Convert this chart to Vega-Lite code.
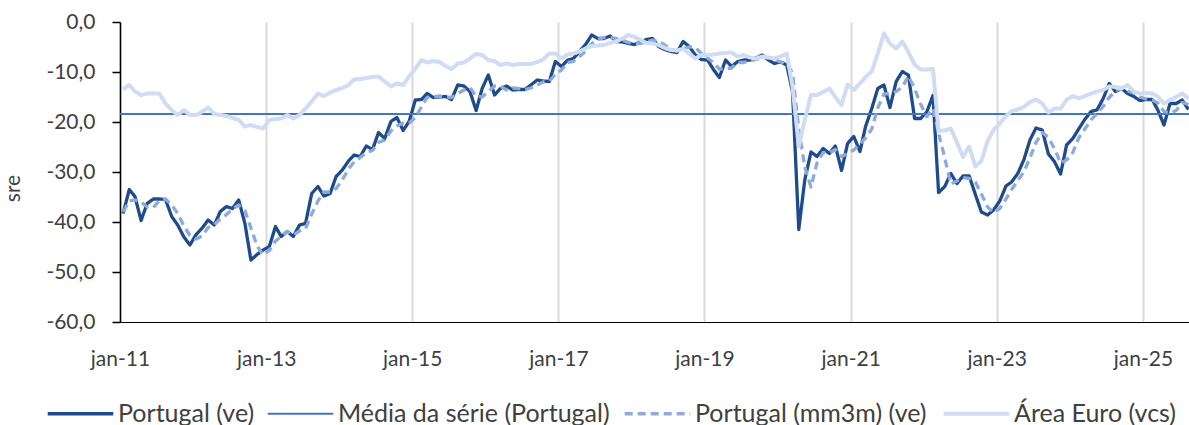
{
  "$schema": "https://vega.github.io/schema/vega-lite/v6.json",
  "width": 1069,
  "height": 300,
  "autosize": {"type": "none"},
  "padding": {"left": 120, "top": 22, "right": 0, "bottom": 103},
  "config": {
    "view": {"stroke": null},
    "font": "Lato",
    "locale": {"number": {"decimal": ",", "thousands": ".", "grouping": [3], "currency": ["", " €"], "minus": "-"}},
    "axis": {"labelFont": "Lato", "labelFontSize": 21, "labelColor": "#404040", "titleFont": "Lato", "titleFontSize": 21, "titleFontWeight": "normal", "titleColor": "#404040"},
    "legend": {"labelFont": "Lato", "labelFontSize": 25, "labelColor": "#404040", "labelLimit": 500}
  },
  "datasets": {
    "d": [
      {"m": "2011-01", "Portugal (ve)": -38.3, "Portugal (mm3m) (ve)": -38.0, "Área Euro (vcs)": -13.5},
      {"m": "2011-02", "Portugal (ve)": -33.5, "Portugal (mm3m) (ve)": -35.8, "Área Euro (vcs)": -12.6},
      {"m": "2011-03", "Portugal (ve)": -34.9, "Portugal (mm3m) (ve)": -35.6, "Área Euro (vcs)": -13.9},
      {"m": "2011-04", "Portugal (ve)": -39.7, "Portugal (mm3m) (ve)": -36.0, "Área Euro (vcs)": -14.6},
      {"m": "2011-05", "Portugal (ve)": -36.3, "Portugal (mm3m) (ve)": -37.0, "Área Euro (vcs)": -14.3},
      {"m": "2011-06", "Portugal (ve)": -35.4, "Portugal (mm3m) (ve)": -37.1, "Área Euro (vcs)": -14.3},
      {"m": "2011-07", "Portugal (ve)": -35.4, "Portugal (mm3m) (ve)": -35.7, "Área Euro (vcs)": -14.3},
      {"m": "2011-08", "Portugal (ve)": -35.5, "Portugal (mm3m) (ve)": -35.4, "Área Euro (vcs)": -16.3},
      {"m": "2011-09", "Portugal (ve)": -38.9, "Portugal (mm3m) (ve)": -36.6, "Área Euro (vcs)": -17.6},
      {"m": "2011-10", "Portugal (ve)": -40.6, "Portugal (mm3m) (ve)": -38.3, "Área Euro (vcs)": -18.6},
      {"m": "2011-11", "Portugal (ve)": -43.0, "Portugal (mm3m) (ve)": -40.8, "Área Euro (vcs)": -17.6},
      {"m": "2011-12", "Portugal (ve)": -44.6, "Portugal (mm3m) (ve)": -42.7, "Área Euro (vcs)": -18.6},
      {"m": "2012-01", "Portugal (ve)": -42.5, "Portugal (mm3m) (ve)": -43.4, "Área Euro (vcs)": -18.6},
      {"m": "2012-02", "Portugal (ve)": -41.2, "Portugal (mm3m) (ve)": -42.8, "Área Euro (vcs)": -17.9},
      {"m": "2012-03", "Portugal (ve)": -39.6, "Portugal (mm3m) (ve)": -41.1, "Área Euro (vcs)": -17.1},
      {"m": "2012-04", "Portugal (ve)": -40.6, "Portugal (mm3m) (ve)": -40.5, "Área Euro (vcs)": -18.4},
      {"m": "2012-05", "Portugal (ve)": -37.9, "Portugal (mm3m) (ve)": -39.4, "Área Euro (vcs)": -18.6},
      {"m": "2012-06", "Portugal (ve)": -36.9, "Portugal (mm3m) (ve)": -38.5, "Área Euro (vcs)": -18.8},
      {"m": "2012-07", "Portugal (ve)": -37.3, "Portugal (mm3m) (ve)": -37.4, "Área Euro (vcs)": -19.2},
      {"m": "2012-08", "Portugal (ve)": -35.6, "Portugal (mm3m) (ve)": -36.6, "Área Euro (vcs)": -19.6},
      {"m": "2012-09", "Portugal (ve)": -40.3, "Portugal (mm3m) (ve)": -37.7, "Área Euro (vcs)": -20.9},
      {"m": "2012-10", "Portugal (ve)": -47.6, "Portugal (mm3m) (ve)": -41.2, "Área Euro (vcs)": -20.6},
      {"m": "2012-11", "Portugal (ve)": -46.5, "Portugal (mm3m) (ve)": -44.8, "Área Euro (vcs)": -21.0},
      {"m": "2012-12", "Portugal (ve)": -45.6, "Portugal (mm3m) (ve)": -46.6, "Área Euro (vcs)": -21.3},
      {"m": "2013-01", "Portugal (ve)": -44.9, "Portugal (mm3m) (ve)": -45.7, "Área Euro (vcs)": -19.6},
      {"m": "2013-02", "Portugal (ve)": -40.9, "Portugal (mm3m) (ve)": -43.8, "Área Euro (vcs)": -19.4},
      {"m": "2013-03", "Portugal (ve)": -42.9, "Portugal (mm3m) (ve)": -42.9, "Área Euro (vcs)": -19.3},
      {"m": "2013-04", "Portugal (ve)": -41.9, "Portugal (mm3m) (ve)": -41.9, "Área Euro (vcs)": -18.6},
      {"m": "2013-05", "Portugal (ve)": -42.9, "Portugal (mm3m) (ve)": -42.6, "Área Euro (vcs)": -19.3},
      {"m": "2013-06", "Portugal (ve)": -40.6, "Portugal (mm3m) (ve)": -41.8, "Área Euro (vcs)": -18.6},
      {"m": "2013-07", "Portugal (ve)": -40.3, "Portugal (mm3m) (ve)": -41.3, "Área Euro (vcs)": -17.3},
      {"m": "2013-08", "Portugal (ve)": -34.3, "Portugal (mm3m) (ve)": -38.4, "Área Euro (vcs)": -15.9},
      {"m": "2013-09", "Portugal (ve)": -32.9, "Portugal (mm3m) (ve)": -35.8, "Área Euro (vcs)": -14.3},
      {"m": "2013-10", "Portugal (ve)": -34.8, "Portugal (mm3m) (ve)": -34.0, "Área Euro (vcs)": -14.8},
      {"m": "2013-11", "Portugal (ve)": -34.3, "Portugal (mm3m) (ve)": -34.0, "Área Euro (vcs)": -14.1},
      {"m": "2013-12", "Portugal (ve)": -30.9, "Portugal (mm3m) (ve)": -33.3, "Área Euro (vcs)": -13.6},
      {"m": "2014-01", "Portugal (ve)": -29.6, "Portugal (mm3m) (ve)": -31.6, "Área Euro (vcs)": -13.2},
      {"m": "2014-02", "Portugal (ve)": -27.8, "Portugal (mm3m) (ve)": -29.4, "Área Euro (vcs)": -12.6},
      {"m": "2014-03", "Portugal (ve)": -26.6, "Portugal (mm3m) (ve)": -28.0, "Área Euro (vcs)": -11.5},
      {"m": "2014-04", "Portugal (ve)": -26.9, "Portugal (mm3m) (ve)": -27.1, "Área Euro (vcs)": -11.4},
      {"m": "2014-05", "Portugal (ve)": -24.8, "Portugal (mm3m) (ve)": -26.1, "Área Euro (vcs)": -11.2},
      {"m": "2014-06", "Portugal (ve)": -25.5, "Portugal (mm3m) (ve)": -25.7, "Área Euro (vcs)": -11.0},
      {"m": "2014-07", "Portugal (ve)": -22.1, "Portugal (mm3m) (ve)": -24.1, "Área Euro (vcs)": -10.9},
      {"m": "2014-08", "Portugal (ve)": -23.3, "Portugal (mm3m) (ve)": -23.6, "Área Euro (vcs)": -11.9},
      {"m": "2014-09", "Portugal (ve)": -19.9, "Portugal (mm3m) (ve)": -21.8, "Área Euro (vcs)": -12.9},
      {"m": "2014-10", "Portugal (ve)": -19.1, "Portugal (mm3m) (ve)": -20.8, "Área Euro (vcs)": -12.3},
      {"m": "2014-11", "Portugal (ve)": -21.7, "Portugal (mm3m) (ve)": -20.2, "Área Euro (vcs)": -12.6},
      {"m": "2014-12", "Portugal (ve)": -19.9, "Portugal (mm3m) (ve)": -20.2, "Área Euro (vcs)": -10.9},
      {"m": "2015-01", "Portugal (ve)": -15.6, "Portugal (mm3m) (ve)": -19.1, "Área Euro (vcs)": -9.3},
      {"m": "2015-02", "Portugal (ve)": -15.5, "Portugal (mm3m) (ve)": -17.0, "Área Euro (vcs)": -7.6},
      {"m": "2015-03", "Portugal (ve)": -14.3, "Portugal (mm3m) (ve)": -15.1, "Área Euro (vcs)": -8.1},
      {"m": "2015-04", "Portugal (ve)": -15.1, "Portugal (mm3m) (ve)": -15.0, "Área Euro (vcs)": -7.8},
      {"m": "2015-05", "Portugal (ve)": -15.0, "Portugal (mm3m) (ve)": -14.8, "Área Euro (vcs)": -8.0},
      {"m": "2015-06", "Portugal (ve)": -14.9, "Portugal (mm3m) (ve)": -15.0, "Área Euro (vcs)": -8.8},
      {"m": "2015-07", "Portugal (ve)": -15.5, "Portugal (mm3m) (ve)": -15.1, "Área Euro (vcs)": -9.4},
      {"m": "2015-08", "Portugal (ve)": -12.6, "Portugal (mm3m) (ve)": -14.3, "Área Euro (vcs)": -8.3},
      {"m": "2015-09", "Portugal (ve)": -12.8, "Portugal (mm3m) (ve)": -13.6, "Área Euro (vcs)": -8.1},
      {"m": "2015-10", "Portugal (ve)": -13.9, "Portugal (mm3m) (ve)": -13.1, "Área Euro (vcs)": -7.3},
      {"m": "2015-11", "Portugal (ve)": -17.7, "Portugal (mm3m) (ve)": -14.8, "Área Euro (vcs)": -6.4},
      {"m": "2015-12", "Portugal (ve)": -13.3, "Portugal (mm3m) (ve)": -15.0, "Área Euro (vcs)": -6.6},
      {"m": "2016-01", "Portugal (ve)": -10.6, "Portugal (mm3m) (ve)": -13.9, "Área Euro (vcs)": -7.6},
      {"m": "2016-02", "Portugal (ve)": -14.6, "Portugal (mm3m) (ve)": -12.8, "Área Euro (vcs)": -7.8},
      {"m": "2016-03", "Portugal (ve)": -13.3, "Portugal (mm3m) (ve)": -12.8, "Área Euro (vcs)": -8.6},
      {"m": "2016-04", "Portugal (ve)": -12.8, "Portugal (mm3m) (ve)": -13.6, "Área Euro (vcs)": -8.3},
      {"m": "2016-05", "Portugal (ve)": -13.6, "Portugal (mm3m) (ve)": -13.2, "Área Euro (vcs)": -8.6},
      {"m": "2016-06", "Portugal (ve)": -13.5, "Portugal (mm3m) (ve)": -13.3, "Área Euro (vcs)": -8.4},
      {"m": "2016-07", "Portugal (ve)": -13.5, "Portugal (mm3m) (ve)": -13.5, "Área Euro (vcs)": -8.4},
      {"m": "2016-08", "Portugal (ve)": -12.6, "Portugal (mm3m) (ve)": -13.2, "Área Euro (vcs)": -8.4},
      {"m": "2016-09", "Portugal (ve)": -11.6, "Portugal (mm3m) (ve)": -12.6, "Área Euro (vcs)": -8.0},
      {"m": "2016-10", "Portugal (ve)": -11.8, "Portugal (mm3m) (ve)": -12.0, "Área Euro (vcs)": -7.5},
      {"m": "2016-11", "Portugal (ve)": -11.9, "Portugal (mm3m) (ve)": -11.8, "Área Euro (vcs)": -6.3},
      {"m": "2016-12", "Portugal (ve)": -7.9, "Portugal (mm3m) (ve)": -10.5, "Área Euro (vcs)": -6.3},
      {"m": "2017-01", "Portugal (ve)": -8.9, "Portugal (mm3m) (ve)": -9.6, "Área Euro (vcs)": -7.3},
      {"m": "2017-02", "Portugal (ve)": -7.6, "Portugal (mm3m) (ve)": -8.1, "Área Euro (vcs)": -6.5},
      {"m": "2017-03", "Portugal (ve)": -7.3, "Portugal (mm3m) (ve)": -7.9, "Área Euro (vcs)": -6.3},
      {"m": "2017-04", "Portugal (ve)": -5.9, "Portugal (mm3m) (ve)": -6.9, "Área Euro (vcs)": -5.9},
      {"m": "2017-05", "Portugal (ve)": -4.5, "Portugal (mm3m) (ve)": -5.9, "Área Euro (vcs)": -5.3},
      {"m": "2017-06", "Portugal (ve)": -2.6, "Portugal (mm3m) (ve)": -4.3, "Área Euro (vcs)": -4.8},
      {"m": "2017-07", "Portugal (ve)": -3.3, "Portugal (mm3m) (ve)": -3.5, "Área Euro (vcs)": -4.7},
      {"m": "2017-08", "Portugal (ve)": -3.3, "Portugal (mm3m) (ve)": -3.1, "Área Euro (vcs)": -4.6},
      {"m": "2017-09", "Portugal (ve)": -2.8, "Portugal (mm3m) (ve)": -3.1, "Área Euro (vcs)": -4.2},
      {"m": "2017-10", "Portugal (ve)": -3.9, "Portugal (mm3m) (ve)": -3.3, "Área Euro (vcs)": -3.9},
      {"m": "2017-11", "Portugal (ve)": -4.0, "Portugal (mm3m) (ve)": -3.6, "Área Euro (vcs)": -3.3},
      {"m": "2017-12", "Portugal (ve)": -4.3, "Portugal (mm3m) (ve)": -4.1, "Área Euro (vcs)": -2.6},
      {"m": "2018-01", "Portugal (ve)": -4.5, "Portugal (mm3m) (ve)": -4.3, "Área Euro (vcs)": -3.0},
      {"m": "2018-02", "Portugal (ve)": -4.0, "Portugal (mm3m) (ve)": -4.3, "Área Euro (vcs)": -3.6},
      {"m": "2018-03", "Portugal (ve)": -3.5, "Portugal (mm3m) (ve)": -4.0, "Área Euro (vcs)": -4.2},
      {"m": "2018-04", "Portugal (ve)": -3.3, "Portugal (mm3m) (ve)": -3.6, "Área Euro (vcs)": -4.3},
      {"m": "2018-05", "Portugal (ve)": -4.9, "Portugal (mm3m) (ve)": -3.9, "Área Euro (vcs)": -4.6},
      {"m": "2018-06", "Portugal (ve)": -5.5, "Portugal (mm3m) (ve)": -4.6, "Área Euro (vcs)": -5.2},
      {"m": "2018-07", "Portugal (ve)": -5.9, "Portugal (mm3m) (ve)": -5.4, "Área Euro (vcs)": -5.6},
      {"m": "2018-08", "Portugal (ve)": -6.1, "Portugal (mm3m) (ve)": -5.8, "Área Euro (vcs)": -5.7},
      {"m": "2018-09", "Portugal (ve)": -3.9, "Portugal (mm3m) (ve)": -5.3, "Área Euro (vcs)": -5.4},
      {"m": "2018-10", "Portugal (ve)": -4.9, "Portugal (mm3m) (ve)": -5.0, "Área Euro (vcs)": -6.3},
      {"m": "2018-11", "Portugal (ve)": -6.6, "Portugal (mm3m) (ve)": -5.1, "Área Euro (vcs)": -7.3},
      {"m": "2018-12", "Portugal (ve)": -7.5, "Portugal (mm3m) (ve)": -6.3, "Área Euro (vcs)": -6.6},
      {"m": "2019-01", "Portugal (ve)": -7.6, "Portugal (mm3m) (ve)": -7.2, "Área Euro (vcs)": -6.6},
      {"m": "2019-02", "Portugal (ve)": -9.6, "Portugal (mm3m) (ve)": -8.2, "Área Euro (vcs)": -6.5},
      {"m": "2019-03", "Portugal (ve)": -11.1, "Portugal (mm3m) (ve)": -9.4, "Área Euro (vcs)": -6.3},
      {"m": "2019-04", "Portugal (ve)": -7.6, "Portugal (mm3m) (ve)": -9.4, "Área Euro (vcs)": -6.2},
      {"m": "2019-05", "Portugal (ve)": -8.9, "Portugal (mm3m) (ve)": -9.2, "Área Euro (vcs)": -6.1},
      {"m": "2019-06", "Portugal (ve)": -7.9, "Portugal (mm3m) (ve)": -8.1, "Área Euro (vcs)": -6.9},
      {"m": "2019-07", "Portugal (ve)": -7.6, "Portugal (mm3m) (ve)": -8.1, "Área Euro (vcs)": -6.6},
      {"m": "2019-08", "Portugal (ve)": -7.6, "Portugal (mm3m) (ve)": -7.7, "Área Euro (vcs)": -7.1},
      {"m": "2019-09", "Portugal (ve)": -7.2, "Portugal (mm3m) (ve)": -7.5, "Área Euro (vcs)": -7.3},
      {"m": "2019-10", "Portugal (ve)": -6.6, "Portugal (mm3m) (ve)": -7.1, "Área Euro (vcs)": -6.9},
      {"m": "2019-11", "Portugal (ve)": -7.6, "Portugal (mm3m) (ve)": -7.1, "Área Euro (vcs)": -7.1},
      {"m": "2019-12", "Portugal (ve)": -8.3, "Portugal (mm3m) (ve)": -7.5, "Área Euro (vcs)": -7.3},
      {"m": "2020-01", "Portugal (ve)": -8.0, "Portugal (mm3m) (ve)": -8.0, "Área Euro (vcs)": -6.9},
      {"m": "2020-02", "Portugal (ve)": -8.6, "Portugal (mm3m) (ve)": -8.3, "Área Euro (vcs)": -6.3},
      {"m": "2020-03", "Portugal (ve)": -14.0, "Portugal (mm3m) (ve)": -10.2, "Área Euro (vcs)": -13.0},
      {"m": "2020-04", "Portugal (ve)": -41.5, "Portugal (mm3m) (ve)": -21.4, "Área Euro (vcs)": -24.9},
      {"m": "2020-05", "Portugal (ve)": -31.6, "Portugal (mm3m) (ve)": -29.0, "Área Euro (vcs)": -19.6},
      {"m": "2020-06", "Portugal (ve)": -26.0, "Portugal (mm3m) (ve)": -33.0, "Área Euro (vcs)": -14.6},
      {"m": "2020-07", "Portugal (ve)": -26.9, "Portugal (mm3m) (ve)": -28.2, "Área Euro (vcs)": -14.6},
      {"m": "2020-08", "Portugal (ve)": -25.3, "Portugal (mm3m) (ve)": -26.1, "Área Euro (vcs)": -14.0},
      {"m": "2020-09", "Portugal (ve)": -26.3, "Portugal (mm3m) (ve)": -26.2, "Área Euro (vcs)": -13.3},
      {"m": "2020-10", "Portugal (ve)": -24.8, "Portugal (mm3m) (ve)": -25.5, "Área Euro (vcs)": -15.0},
      {"m": "2020-11", "Portugal (ve)": -29.7, "Portugal (mm3m) (ve)": -26.9, "Área Euro (vcs)": -16.6},
      {"m": "2020-12", "Portugal (ve)": -24.3, "Portugal (mm3m) (ve)": -26.3, "Área Euro (vcs)": -12.5},
      {"m": "2021-01", "Portugal (ve)": -22.9, "Portugal (mm3m) (ve)": -25.6, "Área Euro (vcs)": -13.6},
      {"m": "2021-02", "Portugal (ve)": -25.9, "Portugal (mm3m) (ve)": -24.4, "Área Euro (vcs)": -12.3},
      {"m": "2021-03", "Portugal (ve)": -20.9, "Portugal (mm3m) (ve)": -23.2, "Área Euro (vcs)": -11.0},
      {"m": "2021-04", "Portugal (ve)": -17.3, "Portugal (mm3m) (ve)": -21.4, "Área Euro (vcs)": -9.9},
      {"m": "2021-05", "Portugal (ve)": -13.3, "Portugal (mm3m) (ve)": -17.2, "Área Euro (vcs)": -6.3},
      {"m": "2021-06", "Portugal (ve)": -12.6, "Portugal (mm3m) (ve)": -14.4, "Área Euro (vcs)": -2.3},
      {"m": "2021-07", "Portugal (ve)": -17.1, "Portugal (mm3m) (ve)": -14.3, "Área Euro (vcs)": -4.3},
      {"m": "2021-08", "Portugal (ve)": -11.9, "Portugal (mm3m) (ve)": -13.9, "Área Euro (vcs)": -5.3},
      {"m": "2021-09", "Portugal (ve)": -9.9, "Portugal (mm3m) (ve)": -13.0, "Área Euro (vcs)": -3.9},
      {"m": "2021-10", "Portugal (ve)": -10.6, "Portugal (mm3m) (ve)": -10.8, "Área Euro (vcs)": -6.0},
      {"m": "2021-11", "Portugal (ve)": -19.3, "Portugal (mm3m) (ve)": -13.3, "Área Euro (vcs)": -8.5},
      {"m": "2021-12", "Portugal (ve)": -19.3, "Portugal (mm3m) (ve)": -16.4, "Área Euro (vcs)": -9.5},
      {"m": "2022-01", "Portugal (ve)": -18.0, "Portugal (mm3m) (ve)": -18.9, "Área Euro (vcs)": -9.5},
      {"m": "2022-02", "Portugal (ve)": -14.7, "Portugal (mm3m) (ve)": -17.3, "Área Euro (vcs)": -9.4},
      {"m": "2022-03", "Portugal (ve)": -34.1, "Portugal (mm3m) (ve)": -22.3, "Área Euro (vcs)": -21.8},
      {"m": "2022-04", "Portugal (ve)": -32.9, "Portugal (mm3m) (ve)": -27.2, "Área Euro (vcs)": -21.7},
      {"m": "2022-05", "Portugal (ve)": -30.3, "Portugal (mm3m) (ve)": -32.4, "Área Euro (vcs)": -21.3},
      {"m": "2022-06", "Portugal (ve)": -32.3, "Portugal (mm3m) (ve)": -31.8, "Área Euro (vcs)": -24.1},
      {"m": "2022-07", "Portugal (ve)": -30.8, "Portugal (mm3m) (ve)": -31.1, "Área Euro (vcs)": -27.0},
      {"m": "2022-08", "Portugal (ve)": -30.8, "Portugal (mm3m) (ve)": -31.3, "Área Euro (vcs)": -24.9},
      {"m": "2022-09", "Portugal (ve)": -34.5, "Portugal (mm3m) (ve)": -32.0, "Área Euro (vcs)": -28.9},
      {"m": "2022-10", "Portugal (ve)": -38.0, "Portugal (mm3m) (ve)": -34.4, "Área Euro (vcs)": -27.8},
      {"m": "2022-11", "Portugal (ve)": -38.6, "Portugal (mm3m) (ve)": -37.0, "Área Euro (vcs)": -23.8},
      {"m": "2022-12", "Portugal (ve)": -37.6, "Portugal (mm3m) (ve)": -38.1, "Área Euro (vcs)": -21.6},
      {"m": "2023-01", "Portugal (ve)": -35.8, "Portugal (mm3m) (ve)": -37.3, "Área Euro (vcs)": -20.3},
      {"m": "2023-02", "Portugal (ve)": -32.8, "Portugal (mm3m) (ve)": -35.4, "Área Euro (vcs)": -18.8},
      {"m": "2023-03", "Portugal (ve)": -32.0, "Portugal (mm3m) (ve)": -33.5, "Área Euro (vcs)": -17.8},
      {"m": "2023-04", "Portugal (ve)": -30.3, "Portugal (mm3m) (ve)": -31.7, "Área Euro (vcs)": -17.5},
      {"m": "2023-05", "Portugal (ve)": -27.6, "Portugal (mm3m) (ve)": -30.0, "Área Euro (vcs)": -17.0},
      {"m": "2023-06", "Portugal (ve)": -23.6, "Portugal (mm3m) (ve)": -27.2, "Área Euro (vcs)": -16.0},
      {"m": "2023-07", "Portugal (ve)": -21.2, "Portugal (mm3m) (ve)": -24.1, "Área Euro (vcs)": -15.5},
      {"m": "2023-08", "Portugal (ve)": -21.6, "Portugal (mm3m) (ve)": -22.1, "Área Euro (vcs)": -16.3},
      {"m": "2023-09", "Portugal (ve)": -26.4, "Portugal (mm3m) (ve)": -23.1, "Área Euro (vcs)": -18.1},
      {"m": "2023-10", "Portugal (ve)": -27.9, "Portugal (mm3m) (ve)": -25.3, "Área Euro (vcs)": -17.3},
      {"m": "2023-11", "Portugal (ve)": -30.4, "Portugal (mm3m) (ve)": -28.2, "Área Euro (vcs)": -17.3},
      {"m": "2023-12", "Portugal (ve)": -24.6, "Portugal (mm3m) (ve)": -27.6, "Área Euro (vcs)": -15.6},
      {"m": "2024-01", "Portugal (ve)": -23.3, "Portugal (mm3m) (ve)": -26.1, "Área Euro (vcs)": -14.8},
      {"m": "2024-02", "Portugal (ve)": -21.3, "Portugal (mm3m) (ve)": -23.1, "Área Euro (vcs)": -15.3},
      {"m": "2024-03", "Portugal (ve)": -19.5, "Portugal (mm3m) (ve)": -21.4, "Área Euro (vcs)": -14.8},
      {"m": "2024-04", "Portugal (ve)": -17.9, "Portugal (mm3m) (ve)": -19.6, "Área Euro (vcs)": -14.3},
      {"m": "2024-05", "Portugal (ve)": -17.6, "Portugal (mm3m) (ve)": -18.3, "Área Euro (vcs)": -13.9},
      {"m": "2024-06", "Portugal (ve)": -15.3, "Portugal (mm3m) (ve)": -16.9, "Área Euro (vcs)": -13.6},
      {"m": "2024-07", "Portugal (ve)": -12.3, "Portugal (mm3m) (ve)": -15.1, "Área Euro (vcs)": -12.9},
      {"m": "2024-08", "Portugal (ve)": -13.9, "Portugal (mm3m) (ve)": -13.8, "Área Euro (vcs)": -13.0},
      {"m": "2024-09", "Portugal (ve)": -13.3, "Portugal (mm3m) (ve)": -13.2, "Área Euro (vcs)": -13.3},
      {"m": "2024-10", "Portugal (ve)": -14.3, "Portugal (mm3m) (ve)": -13.8, "Área Euro (vcs)": -12.6},
      {"m": "2024-11", "Portugal (ve)": -14.9, "Portugal (mm3m) (ve)": -14.2, "Área Euro (vcs)": -13.9},
      {"m": "2024-12", "Portugal (ve)": -15.7, "Portugal (mm3m) (ve)": -15.0, "Área Euro (vcs)": -14.3},
      {"m": "2025-01", "Portugal (ve)": -15.5, "Portugal (mm3m) (ve)": -15.4, "Área Euro (vcs)": -14.2},
      {"m": "2025-02", "Portugal (ve)": -15.5, "Portugal (mm3m) (ve)": -15.6, "Área Euro (vcs)": -14.3},
      {"m": "2025-03", "Portugal (ve)": -17.6, "Portugal (mm3m) (ve)": -16.2, "Área Euro (vcs)": -14.9},
      {"m": "2025-04", "Portugal (ve)": -20.6, "Portugal (mm3m) (ve)": -17.9, "Área Euro (vcs)": -16.3},
      {"m": "2025-05", "Portugal (ve)": -16.3, "Portugal (mm3m) (ve)": -18.2, "Área Euro (vcs)": -15.6},
      {"m": "2025-06", "Portugal (ve)": -16.3, "Portugal (mm3m) (ve)": -17.7, "Área Euro (vcs)": -15.0},
      {"m": "2025-07", "Portugal (ve)": -15.6, "Portugal (mm3m) (ve)": -16.1, "Área Euro (vcs)": -14.3},
      {"m": "2025-08", "Portugal (ve)": -17.5, "Portugal (mm3m) (ve)": -16.5, "Área Euro (vcs)": -15.3}
    ],
    "media": [
      {"s": "Média da série (Portugal)", "v": -18.4}
    ]
  },
  "data": {"name": "d"},
  "encoding": {
    "y": {
      "field": "v", "type": "quantitative",
      "scale": {"domain": [-60, 0], "nice": false, "zero": false},
      "axis": {
        "values": [-60, -50, -40, -30, -20, -10, 0],
        "format": ".1f",
        "grid": false,
        "domainColor": "#000000", "domainWidth": 1.5,
        "tickColor": "#000000", "tickSize": 8, "tickWidth": 1.5,
        "labelPadding": 17,
        "title": "sre", "titlePadding": 22, "titleY": 166
      }
    },
    "color": {
      "field": "s", "type": "nominal",
      "scale": {
        "domain": ["Portugal (ve)", "Média da série (Portugal)", "Portugal (mm3m) (ve)", "Área Euro (vcs)"],
        "range": ["#1F4B8A", "#4472C4", "#8EAADB", "#CFDCF3"]
      },
      "legend": {
        "title": null, "orient": "none", "direction": "horizontal", "columns": 4,
        "legendX": -52, "legendY": 379,
        "symbolType": "stroke", "symbolSize": 4300,
        "labelOffset": 25, "columnPadding": 8,
        "encode": {
          "symbols": {
            "update": {
              "strokeWidth": {"signal": "datum.value === 'Média da série (Portugal)' ? 2 : (datum.value === 'Área Euro (vcs)' ? 4 : 3.3)"}
            }
          }
        }
      }
    },
    "strokeDash": {
      "field": "s", "type": "nominal",
      "scale": {
        "domain": ["Portugal (ve)", "Média da série (Portugal)", "Portugal (mm3m) (ve)", "Área Euro (vcs)"],
        "range": [[1, 0], [1, 0], [8, 5], [1, 0]]
      },
      "legend": null
    }
  },
  "layer": [
    {
      "transform": [
        {"fold": ["Portugal (ve)", "Portugal (mm3m) (ve)", "Área Euro (vcs)"], "as": ["s", "v"]},
        {"filter": "datum.s === 'Portugal (ve)'"}
      ],
      "mark": {"type": "line", "strokeJoin": "round", "strokeWidth": 3.3},
      "encoding": {
        "x": {
          "field": "m", "type": "temporal",
          "scale": {"type": "utc", "domain": [{"year": 2010, "month": 12, "date": 16, "hours": 12, "utc": true}, {"year": 2025, "month": 8, "date": 4, "utc": true}]},
          "axis": {
            "values": [
              {"year": 2010, "month": 12, "date": 16, "hours": 12, "utc": true},
              {"year": 2012, "month": 12, "date": 16, "hours": 12, "utc": true},
              {"year": 2014, "month": 12, "date": 16, "hours": 12, "utc": true},
              {"year": 2016, "month": 12, "date": 16, "hours": 12, "utc": true},
              {"year": 2018, "month": 12, "date": 16, "hours": 12, "utc": true},
              {"year": 2020, "month": 12, "date": 16, "hours": 12, "utc": true},
              {"year": 2022, "month": 12, "date": 16, "hours": 12, "utc": true},
              {"year": 2024, "month": 12, "date": 16, "hours": 12, "utc": true}
            ],
            "labelExpr": "'jan-' + utcFormat(datum.value + 2592000000, '%y')",
            "grid": true, "gridColor": "#D9D9D9", "gridWidth": 2,
            "ticks": false, "domain": true, "domainColor": "#000000", "domainWidth": 1,
            "labelPadding": 26, "labelFlush": false, "labelOverlap": false,
            "title": null
          }
        }
      }
    },
    {
      "data": {"name": "media"},
      "mark": {"type": "rule", "strokeWidth": 2},
      "encoding": {}
    },
    {
      "transform": [
        {"fold": ["Portugal (ve)", "Portugal (mm3m) (ve)", "Área Euro (vcs)"], "as": ["s", "v"]},
        {"filter": "datum.s === 'Portugal (mm3m) (ve)'"}
      ],
      "mark": {"type": "line", "strokeJoin": "round", "strokeWidth": 3.3},
      "encoding": {"x": {"field": "m", "type": "temporal"}}
    },
    {
      "transform": [
        {"fold": ["Portugal (ve)", "Portugal (mm3m) (ve)", "Área Euro (vcs)"], "as": ["s", "v"]},
        {"filter": "datum.s === 'Área Euro (vcs)'"}
      ],
      "mark": {"type": "line", "strokeJoin": "round", "strokeWidth": 4},
      "encoding": {"x": {"field": "m", "type": "temporal"}}
    }
  ]
}
